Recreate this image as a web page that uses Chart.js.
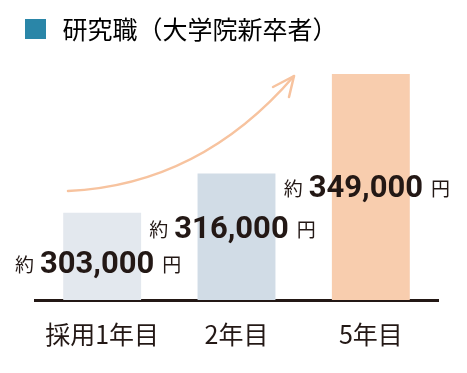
<!DOCTYPE html>
<html lang="ja">
<head>
<meta charset="utf-8">
<script src="https://cdn.jsdelivr.net/npm/chart.js@4.4.1/dist/chart.umd.min.js"></script>
<style>
  html, body { margin: 0; padding: 0; background: #fff; }
  #wrap { width: 467px; height: 373px; }
</style>
</head>
<body>
<div id="wrap"><canvas id="salaryChart"></canvas></div>
<script>
// Data
const categories = ['採用1年目', '2年目', '5年目'];
const salaries = [303000, 316000, 349000];
const seriesLabel = '研究職（大学院新卒者）';

const barColors = ['#e3e8ee', '#d1dce6', '#f8cdae'];
const INK = '#231815';
const JP = '"Noto Sans CJK JP", "Noto Sans", sans-serif';

// Value labels: "約 303,000 円" placed above the baseline
const valueLabels = {
    id: 'valueLabels',
    afterDatasetsDraw(chart) {
        const ctx = chart.ctx;
        const bottom = chart.chartArea.bottom;
        const lift = [27, 62, 103];
        const meta = chart.getDatasetMeta(0);
        ctx.save();
        ctx.fillStyle = INK;
        ctx.textBaseline = 'alphabetic';
        meta.data.forEach((bar, i) => {
            const num = salaries[i].toLocaleString('en-US');
            const smallFont = '19px ' + JP;
            const bigFont = 'bold 31px Roboto, "DejaVu Sans", sans-serif';
            ctx.font = smallFont;
            const wPre = ctx.measureText('約').width;
            const wPost = ctx.measureText('円').width;
            ctx.font = bigFont;
            const wNum = ctx.measureText(num).width;
            const gap1 = 6, gap2 = 8;
            const total = wPre + gap1 + wNum + gap2 + wPost;
            let x = bar.x - 4 - total / 2;
            const y = bottom - lift[i];
            ctx.font = smallFont;
            ctx.fillText('約', x, y - 1);
            x += wPre + gap1;
            ctx.font = bigFont;
            ctx.fillText(num, x, y);
            x += wNum + gap2;
            ctx.font = smallFont;
            ctx.fillText('円', x, y - 1);
        });
        ctx.restore();
    }
};

// Rising arrow over the bars
const growthArrow = {
    id: 'growthArrow',
    beforeDatasetsDraw(chart) {
        const ctx = chart.ctx;
        ctx.save();
        ctx.strokeStyle = '#f7c39f';
        ctx.lineWidth = 2.5;
        ctx.lineCap = 'round';
        ctx.lineJoin = 'round';
        ctx.beginPath();
        ctx.moveTo(68, 191);
        ctx.quadraticCurveTo(200, 185, 294, 76);
        ctx.stroke();
        ctx.beginPath();
        ctx.moveTo(273, 87);
        ctx.lineTo(294, 76);
        ctx.lineTo(289, 97);
        ctx.stroke();
        ctx.restore();
    }
};

const ctx = document.getElementById('salaryChart').getContext('2d');
new Chart(ctx, {
    type: 'bar',
    data: {
        labels: categories,
        datasets: [{
            label: seriesLabel,
            data: salaries,
            backgroundColor: barColors,
            borderWidth: 0,
            categoryPercentage: 1,
            barPercentage: 0.58
        }]
    },
    options: {
        responsive: true,
        maintainAspectRatio: false,
        animation: false,
        layout: {
            padding: { left: 8, right: 29, top: 2, bottom: 13 }
        },
        plugins: {
            legend: {
                position: 'top',
                align: 'start',
                labels: {
                    // white border trims the teal square to 21x20 and leaves room before the text
                    boxWidth: 29,
                    boxHeight: 28,
                    padding: 13,
                    color: INK,
                    font: { family: JP, size: 25 },
                    generateLabels: chart => [{
                        text: chart.data.datasets[0].label,
                        fillStyle: '#2a86a8',
                        strokeStyle: '#ffffff',
                        lineWidth: 8,
                        datasetIndex: 0
                    }]
                },
                onClick: null
            },
            tooltip: { enabled: false }
        },
        scales: {
            x: {
                grid: { display: false },
                border: { display: true, color: INK, width: 3 },
                ticks: {
                    color: INK,
                    padding: 11,
                    font: { family: JP, size: 25 }
                }
            },
            y: {
                min: 274000,
                max: 356000,
                grid: { display: false },
                border: { display: false },
                ticks: { display: false },
                afterFit: scale => { scale.width = 27; }
            }
        }
    },
    plugins: [growthArrow, valueLabels]
});
</script>
</body>
</html>
